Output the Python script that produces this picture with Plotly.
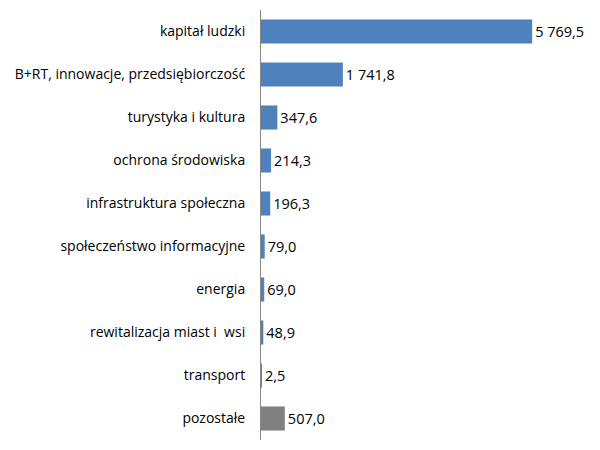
import plotly.graph_objects as go

# kategorie (od góry do dołu) i wartości
categories = [
    "kapitał ludzki",
    "B+RT, innowacje, przedsiębiorczość",
    "turystyka i kultura",
    "ochrona środowiska",
    "infrastruktura społeczna",
    "społeczeństwo informacyjne",
    "energia",
    "rewitalizacja miast i  wsi",
    "transport",
    "pozostałe",
]
values = [5769.5, 1741.8, 347.6, 214.3, 196.3, 79.0, 69.0, 48.9, 2.5, 507.0]
colors = ["#4F81BD"] * 9 + ["#808080"]


def fmt(v):
    s = f"{v:,.1f}"
    return s.replace(",", " ").replace(".", ",")


labels = [fmt(v) for v in values]

fig = go.Figure(go.Bar(
    x=values,
    y=categories,
    orientation="h",
    marker=dict(color=colors, line=dict(width=0)),
    text=labels,
    textposition="outside",
    textfont=dict(color="#000000", size=14.5),
    cliponaxis=False,
    width=0.56,
))

# strona ma 8 px marginesu body, stąd przesunięcie
fig.update_layout(
    width=600, height=450,
    margin=dict(l=253, r=18, t=1.5, b=17.5, autoexpand=False),
    paper_bgcolor="white",
    plot_bgcolor="white",
    font=dict(family="Open Sans, sans-serif", size=14, color="#000000"),
    showlegend=False,
)
fig.update_xaxes(range=[0, 7000], visible=False, automargin=False)
fig.update_yaxes(
    autorange="reversed",
    showline=True, linecolor="#868686", linewidth=1,
    ticks="", ticklabelstandoff=12,
    showgrid=False, automargin=False,
)

fig.write_html("out.html")
